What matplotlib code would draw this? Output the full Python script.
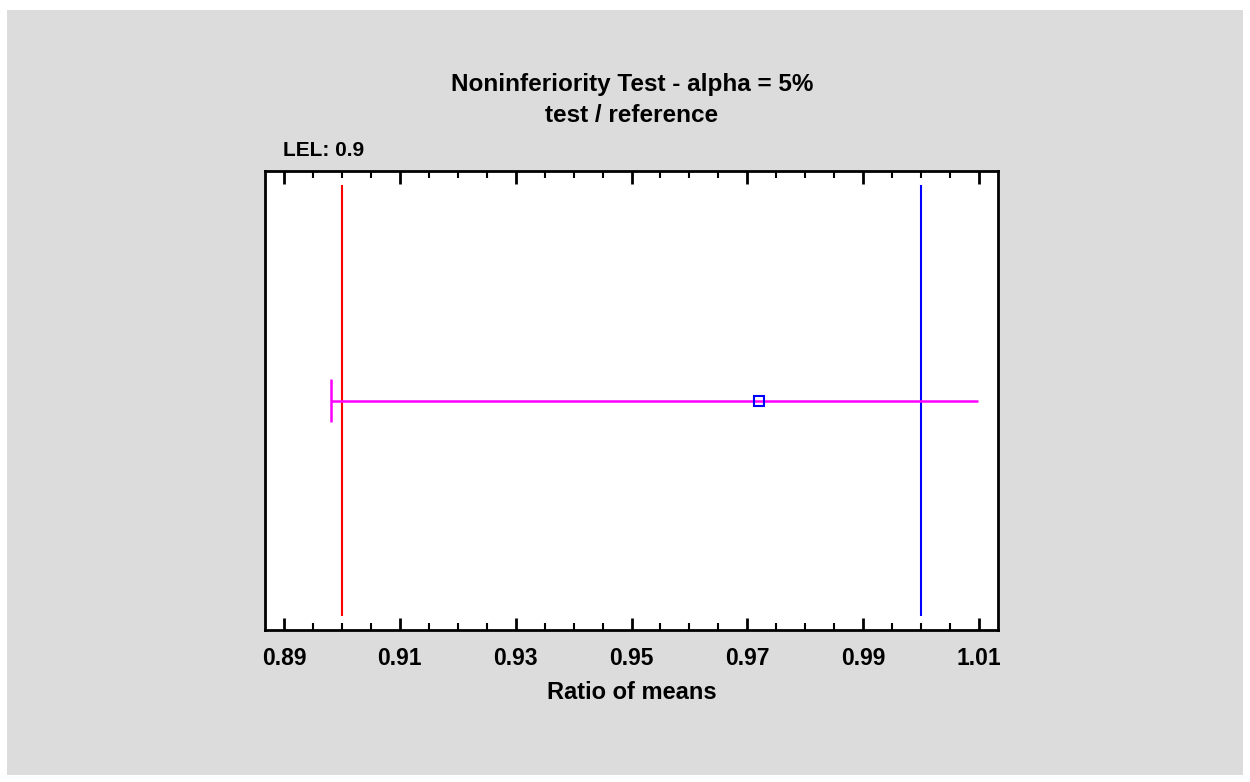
import matplotlib
matplotlib.use("Agg")
import matplotlib.pyplot as plt
from matplotlib.patches import Rectangle

# Data
title_lines = ["Noninferiority Test - alpha = 5%", "test / reference"]
lel_label = "LEL: 0.9"
lel = 0.90
ref_value = 1.00
ci_lower = 0.8982
estimate = 0.9721
ci_upper = 1.0098
xticks = [0.89, 0.91, 0.93, 0.95, 0.97, 0.99, 1.01]
xtick_labels = ["0.89", "0.91", "0.93", "0.95", "0.97", "0.99", "1.01"]
xlabel = "Ratio of means"

plt.rcParams['font.family'] = ['Liberation Sans', 'DejaVu Sans']
plt.rcParams['font.weight'] = 'bold'

W, H = 1250, 782
fig = plt.figure(figsize=(W / 100, H / 100), dpi=100, facecolor='white')
fig.patches.append(Rectangle((7 / W, 1 - 775 / H), (1243 - 7) / W, (775 - 10) / H,
                             transform=fig.transFigure, facecolor='#dcdcdc',
                             edgecolor='none', zorder=-10))

ax = fig.add_axes([265 / W, 1 - 630 / H, (998 - 265) / W, (630 - 171) / H])
ax.set_zorder(2)
ax.set_facecolor('white')
ax.set_xlim(0.88672, 1.01328)
ax.set_ylim(0, 1)

ax.vlines(lel, 0.03, 0.97, color='#ff0000', lw=1.5, zorder=2)
ax.vlines(ref_value, 0.03, 0.97, color='#0000ff', lw=1.5, zorder=2)
ax.hlines(0.5, ci_lower, ci_upper, color='#ff00ff', lw=1.8, zorder=3)
ax.vlines(ci_lower, 0.454, 0.546, color='#ff00ff', lw=1.8, zorder=3)
ax.plot([estimate], [0.5], marker='s', ms=6.5, mfc='none', mec='#0000ff', mew=1.5,
        ls='none', zorder=4)

for s in ax.spines.values():
    s.set_linewidth(2)
    s.set_color('black')

ax.set_xticks(xticks)
ax.set_xticklabels(xtick_labels, fontsize=16.5, fontweight='bold')
ax.set_xticks([0.89 + 0.005 * i for i in range(25)], minor=True)
ax.set_yticks([])
ax.tick_params(axis='x', which='major', direction='in', length=9, width=2,
               top=True, bottom=True, pad=12)
ax.tick_params(axis='x', which='minor', direction='in', length=5, width=1.5,
               top=True, bottom=True)
ax.set_xlabel(xlabel, fontsize=17, fontweight='bold', labelpad=8)

fig.text(632 / W, 1 - 85 / H, title_lines[0], ha='center', va='center',
         fontsize=17.5, fontweight='bold')
fig.text(632 / W, 1 - 116 / H, title_lines[1], ha='center', va='center',
         fontsize=17.5, fontweight='bold')
fig.text(283 / W, 1 - 150 / H, lel_label, ha='left', va='center',
         fontsize=15, fontweight='bold')

fig.savefig("out.png", dpi=100, facecolor='white')
